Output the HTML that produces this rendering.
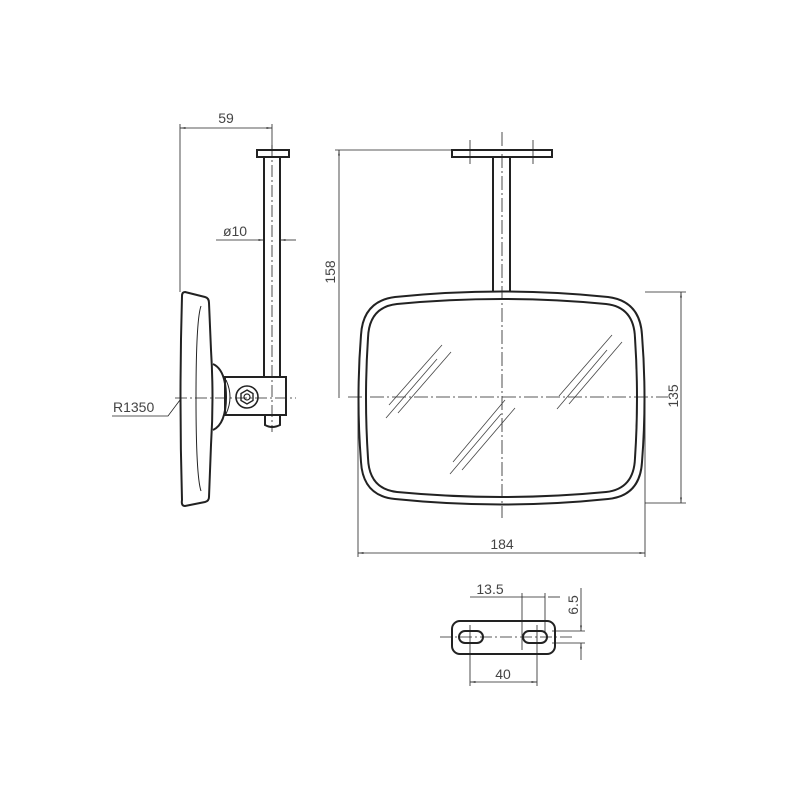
<!DOCTYPE html>
<html><head><meta charset="utf-8"><style>html,body{margin:0;padding:0;background:#fff}svg{display:block}text{font-family:"Liberation Sans",sans-serif;fill:#444;font-size:14px}</style></head>
<body>
<svg width="800" height="800" viewBox="0 0 800 800" xmlns="http://www.w3.org/2000/svg">
<defs><marker id="a" viewBox="0 0 10 10" refX="10" refY="5" markerWidth="7" markerHeight="7" orient="auto-start-reverse"><path d="M0,3.5 L10,5 L0,6.5z" fill="#222"/></marker></defs>
<g fill="none" stroke="#222">
<g stroke-width="0.8">
<line x1="180" y1="124" x2="180" y2="292"/>
<line x1="272" y1="124" x2="272" y2="150"/>
<line x1="180" y1="128" x2="272" y2="128" marker-start="url(#a)" marker-end="url(#a)"/>
<line x1="216" y1="240" x2="264" y2="240" marker-end="url(#a)"/>
<line x1="280" y1="240" x2="296" y2="240" marker-start="url(#a)"/>
<polyline points="112,416 168,416 180,400"/>
<line x1="175" y1="398" x2="296" y2="398" stroke-dasharray="12,3,2,3"/>
<line x1="272" y1="145" x2="272" y2="432" stroke-dasharray="12,3,2,3"/>
</g>
<g stroke-width="2">
<rect x="257" y="150" width="32" height="7"/>
<line x1="264" y1="157" x2="264" y2="377"/>
<line x1="280" y1="157" x2="280" y2="377"/>
<path d="M185,292 L205,297 Q209,298 209,303 L211,350 Q214,398 211,445 L209,497 Q209,501 205,502 L185,506 Q181,506 182,500 Q179,398 182,296 Q182,292 185,292Z"/>
<rect x="225" y="377" width="61" height="38"/>
<path d="M213,364 Q226,370 226,397 Q226,424 213,430"/>
<path d="M265,415 L265,425 Q272,429 280,425 L280,415"/>
<circle cx="247" cy="397" r="11" stroke-width="1.6"/>
</g>
<g stroke-width="1">
<path d="M201,306 Q196,320 196,398 Q196,476 201,491"/>
<path d="M226,380 Q234,397 226,414"/>
<polygon points="247,390 253,393.5 253,400.5 247,404 241,400.5 241,393.5" stroke-width="1.4"/>
<circle cx="247" cy="397" r="3" stroke-width="1.2"/>
</g>
<g stroke-width="0.8">
<line x1="335" y1="150" x2="452" y2="150"/>
<line x1="339" y1="150" x2="339" y2="398" marker-start="url(#a)"/>
<line x1="645" y1="292" x2="686" y2="292"/>
<line x1="645" y1="503" x2="686" y2="503"/>
<line x1="681" y1="292" x2="681" y2="503" marker-start="url(#a)" marker-end="url(#a)"/>
<line x1="358" y1="398" x2="358" y2="557"/>
<line x1="645" y1="398" x2="645" y2="557"/>
<line x1="358" y1="553" x2="645" y2="553" marker-start="url(#a)" marker-end="url(#a)"/>
<line x1="470" y1="140" x2="470" y2="164"/>
<line x1="533" y1="140" x2="533" y2="164"/>
<line x1="348" y1="397" x2="668" y2="397" stroke-dasharray="14,3,2,3"/>
<line x1="502" y1="132" x2="502" y2="518" stroke-dasharray="14,3,2,3"/>
</g>
<g stroke-width="2">
<rect x="452" y="150" width="100" height="7"/>
<line x1="493" y1="157" x2="493" y2="292"/>
<line x1="510" y1="157" x2="510" y2="292"/>
<path d="M395,297 Q502,286 608,297 Q640,301 642,335 Q647,398 642,462 Q640,496 608,499 Q502,510 395,499 Q363,496 361,462 Q356,398 361,335 Q363,301 395,297Z"/>
<path d="M397,304 Q502,294 606,304 Q634,307 635,338 Q639,398 635,458 Q634,489 606,492 Q502,502 397,492 Q369,489 368,458 Q364,398 368,338 Q369,307 397,304Z"/>
</g>
<g stroke-width="0.8" stroke="#444">
<line x1="442" y1="345" x2="389" y2="405"/>
<line x1="437" y1="359" x2="386" y2="418"/>
<line x1="451" y1="352" x2="398" y2="413"/>
<line x1="612" y1="335" x2="559" y2="396"/>
<line x1="607" y1="350" x2="557" y2="409"/>
<line x1="622" y1="342" x2="569" y2="404"/>
<line x1="505" y1="400" x2="453" y2="462"/>
<line x1="501" y1="414" x2="450" y2="474"/>
<line x1="515" y1="408" x2="462" y2="470"/>
</g>
<g stroke-width="0.8">
<line x1="470" y1="597" x2="545" y2="597"/>
<line x1="522" y1="593" x2="522" y2="650"/>
<line x1="545" y1="593" x2="545" y2="632"/>
<line x1="548" y1="597" x2="560" y2="597"/>
<line x1="470" y1="625" x2="470" y2="686"/>
<line x1="537" y1="625" x2="537" y2="686"/>
<line x1="470" y1="682" x2="537" y2="682" marker-start="url(#a)" marker-end="url(#a)"/>
<line x1="552" y1="631" x2="585" y2="631"/>
<line x1="552" y1="643" x2="585" y2="643"/>
<line x1="581" y1="588" x2="581" y2="631" marker-end="url(#a)"/>
<line x1="581" y1="643" x2="581" y2="660" marker-start="url(#a)"/>
<line x1="440" y1="637" x2="575" y2="637" stroke-dasharray="12,3,2,3"/>
</g>
<g stroke-width="2">
<rect x="452" y="621" width="103" height="33" rx="8"/>
<rect x="459" y="631" width="24" height="12" rx="6"/>
<rect x="523" y="631" width="24" height="12" rx="6"/>
</g>
</g>
<text x="226" y="123" text-anchor="middle">59</text>
<text x="235" y="236" text-anchor="middle">ø10</text>
<text x="113" y="412">R1350</text>
<text x="502" y="549" text-anchor="middle">184</text>
<text transform="translate(335,272) rotate(-90)" text-anchor="middle">158</text>
<text transform="translate(678,396) rotate(-90)" text-anchor="middle">135</text>
<text x="490" y="594" text-anchor="middle">13.5</text>
<text x="503" y="679" text-anchor="middle">40</text>
<text transform="translate(578,605) rotate(-90)" text-anchor="middle">6.5</text>
</svg>
</body></html>
